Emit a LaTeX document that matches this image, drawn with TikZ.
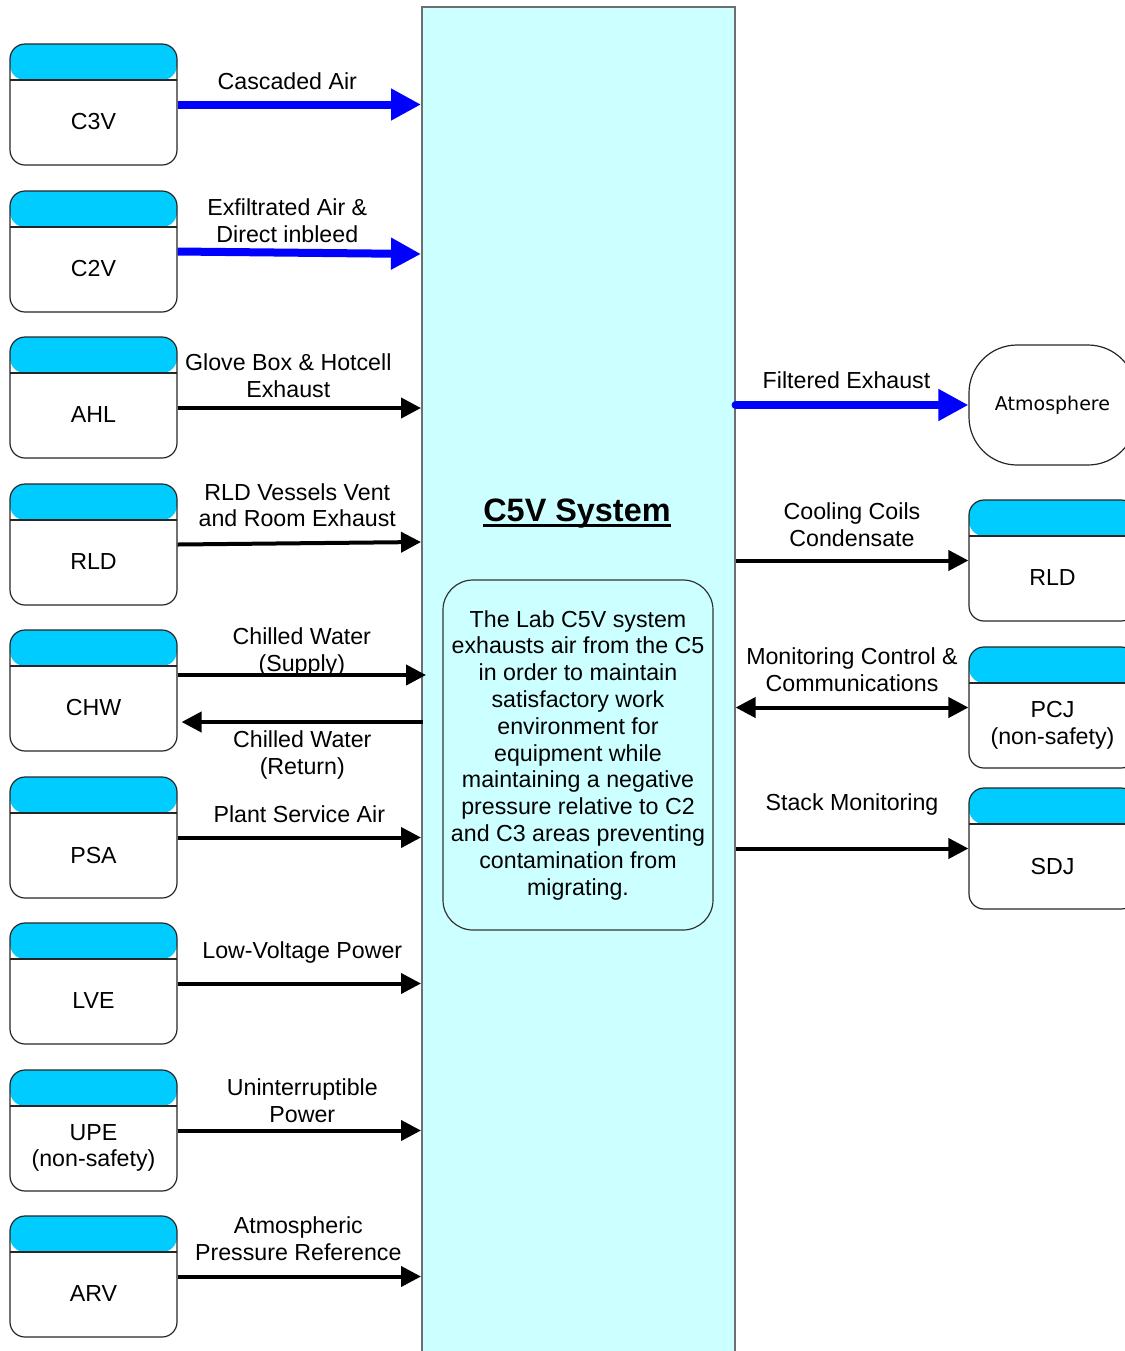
\documentclass[tikz,border=0pt]{standalone}
\usepackage{fontspec}
\setmainfont{Liberation Sans}
\newfontfamily\atmfont{DejaVu Sans}
\usetikzlibrary{arrows.meta,positioning}
\definecolor{entete}{HTML}{00CCFF}
\definecolor{systeme}{HTML}{CCFFFF}
\definecolor{flux}{HTML}{0000FF}
\definecolor{bord}{HTML}{6E6E6E}
\newcommand{\lblfont}{\fontsize{11.6}{13.4}\selectfont}
\newcommand{\thickul}[1]{\setbox0\hbox{#1}\leavevmode\rlap{\rule[-2.6pt]{\wd0}{1.5pt}}\box0}
\tikzset{
  unitbox/.style={draw=black!85,line width=0.6pt,rounded corners=7.5pt,fill=white,
                  minimum width=83.5pt,minimum height=60.5pt,inner sep=0pt,
                  path picture={
                    \fill[entete] (path picture bounding box.north west) rectangle ([yshift=-18pt]path picture bounding box.north east);
                    \draw[black!85,line width=0.6pt] ([yshift=-18pt]path picture bounding box.north west) -- ([yshift=-18pt]path picture bounding box.north east);},
                  label={[align=center,font=\lblfont,yshift=-8.75pt]center:#1}},
  feed/.style={-{Triangle[length=10pt,width=10pt]},line width=2pt,black},
  bluefeed/.style={-{Triangle[length=15pt,width=15pt]},line width=4pt,flux},
  lbl/.style={font=\lblfont,align=center,inner sep=0pt,text=black},
}

\begin{document}
\begin{tikzpicture}[x=0.5pt,y=-0.5pt,
    sysbox/.style={draw=bord,line width=0.8pt,fill=systeme,anchor=north west,
                   minimum width=156.5pt,minimum height=700pt,inner sep=0pt},
    descbox/.style={draw=black!80,line width=0.6pt,fill=systeme,rounded corners=15pt,
                    minimum width=135pt,minimum height=175pt,align=center,font=\lblfont},
    atmbox/.style={draw=black!85,line width=0.6pt,rounded corners=24pt,fill=white,
                   minimum width=83.5pt,minimum height=60pt,font=\atmfont\fontsize{9.5}{11}\selectfont}]
  \useasboundingbox (0,0) rectangle (1125,1351);
  \clip (0,0) rectangle (1125,1351);
  % systeme central
  \node[sysbox] (c5v) at (421,6) {};
  \node[font=\fontsize{16.2}{18}\selectfont\bfseries] (titre) at (577,514) {\thickul{C5V System}};
  \node[descbox] (desc) at (578,755) {The Lab C5V system\\exhausts air from the C5\\in order to maintain\\satisfactory work\\environment for\\equipment while\\maintaining a negative\\pressure relative to C2\\and C3 areas preventing\\contamination from\\migrating.};
  % unites a gauche
  \node[unitbox=C3V] (c3v) at (93.5,104.5) {};
  \node[unitbox=C2V] (c2v) at (93.5,251.5) {};
  \node[unitbox=AHL] (ahl) at (93.5,397.5) {};
  \node[unitbox=RLD] (rld) at (93.5,544.5) {};
  \node[unitbox=CHW] (chw) at (93.5,690.5) {};
  \node[unitbox=PSA] (psa) at (93.5,837.5) {};
  \node[unitbox=LVE] (lve) at (93.5,983.5) {};
  \node[unitbox={UPE\\(non-safety)}] (upe) at (93.5,1130.5) {};
  \node[unitbox=ARV] (arv) at (93.5,1276.5) {};
  % unites a droite
  \node[atmbox] (atm) at (1052.5,405) {Atmosphere};
  \node[unitbox=RLD] (rldr) at (1052.5,560.5) {};
  \node[unitbox={PCJ\\(non-safety)}] (pcj) at (1052.5,707.5) {};
  \node[unitbox=SDJ] (sdj) at (1052.5,848.5) {};
  % flux entrants
  \draw[bluefeed] (c3v.east) -- (c3v.east -| c5v.west) node[lbl,midway,xshift=-6pt,yshift=11.5pt] {Cascaded Air};
  \draw[bluefeed] (c2v.east) -- ([yshift=-1.25pt]c2v.east -| c5v.west) node[lbl,midway,xshift=-6pt,yshift=16pt] {Exfiltrated Air \&\\Direct inbleed};
  \draw[feed] ([yshift=-5.25pt]ahl.east) -- ([yshift=-5.25pt]ahl.east -| c5v.west) node[lbl,midway,xshift=-5.5pt,yshift=16pt] {Glove Box \& Hotcell\\Exhaust};
  \draw[feed] (rld.east) -- ([yshift=1.25pt]rld.east -| c5v.west) node[lbl,midway,xshift=-1pt,yshift=19pt] {RLD Vessels Vent\\and Room Exhaust};
  \draw[feed] ([yshift=7.75pt]chw.east) -- ([xshift=2.5pt,yshift=7.75pt]chw.east -| c5v.west) node[lbl,midway,yshift=11.5pt] {Chilled Water\\(Supply)};
  \draw[feed] ([xshift=1pt,yshift=-15.75pt]chw.east -| c5v.west) -- ([xshift=2pt,yshift=-15.75pt]chw.east) node[lbl,midway,yshift=-16.5pt] {Chilled Water\\(Return)};
  \draw[feed] (psa.east) -- (psa.east -| c5v.west) node[lbl,midway,yshift=11.5pt] {Plant Service Air};
  \draw[feed] (lve.east) -- (lve.east -| c5v.west) node[lbl,midway,xshift=1.5pt,yshift=15.5pt] {Low-Voltage Power};
  \draw[feed] (upe.east) -- (upe.east -| c5v.west) node[lbl,midway,xshift=1.5pt,yshift=15pt] {Uninterruptible\\Power};
  \draw[feed] (arv.east) -- (arv.east -| c5v.west) node[lbl,midway,xshift=-0.5pt,yshift=19pt] {Atmospheric\\Pressure Reference};
  % flux sortants
  \draw[bluefeed,line cap=round] (c5v.east |- atm.west) -- (atm.west) node[lbl,midway,xshift=-2.75pt,yshift=12.5pt] {Filtered Exhaust};
  \draw[feed] (c5v.east |- rldr.west) -- (rldr.west) node[lbl,midway,yshift=18pt] {Cooling Coils\\Condensate};
  \draw[feed,{Triangle[length=10pt,width=10pt]}-{Triangle[length=10pt,width=10pt]}] (c5v.east |- pcj.west) -- (pcj.west) node[lbl,midway,yshift=19pt] {Monitoring Control \&\\Communications};
  \draw[feed] (c5v.east |- sdj.west) -- (sdj.west) node[lbl,midway,yshift=22pt] {Stack Monitoring};
\end{tikzpicture}
\end{document}
